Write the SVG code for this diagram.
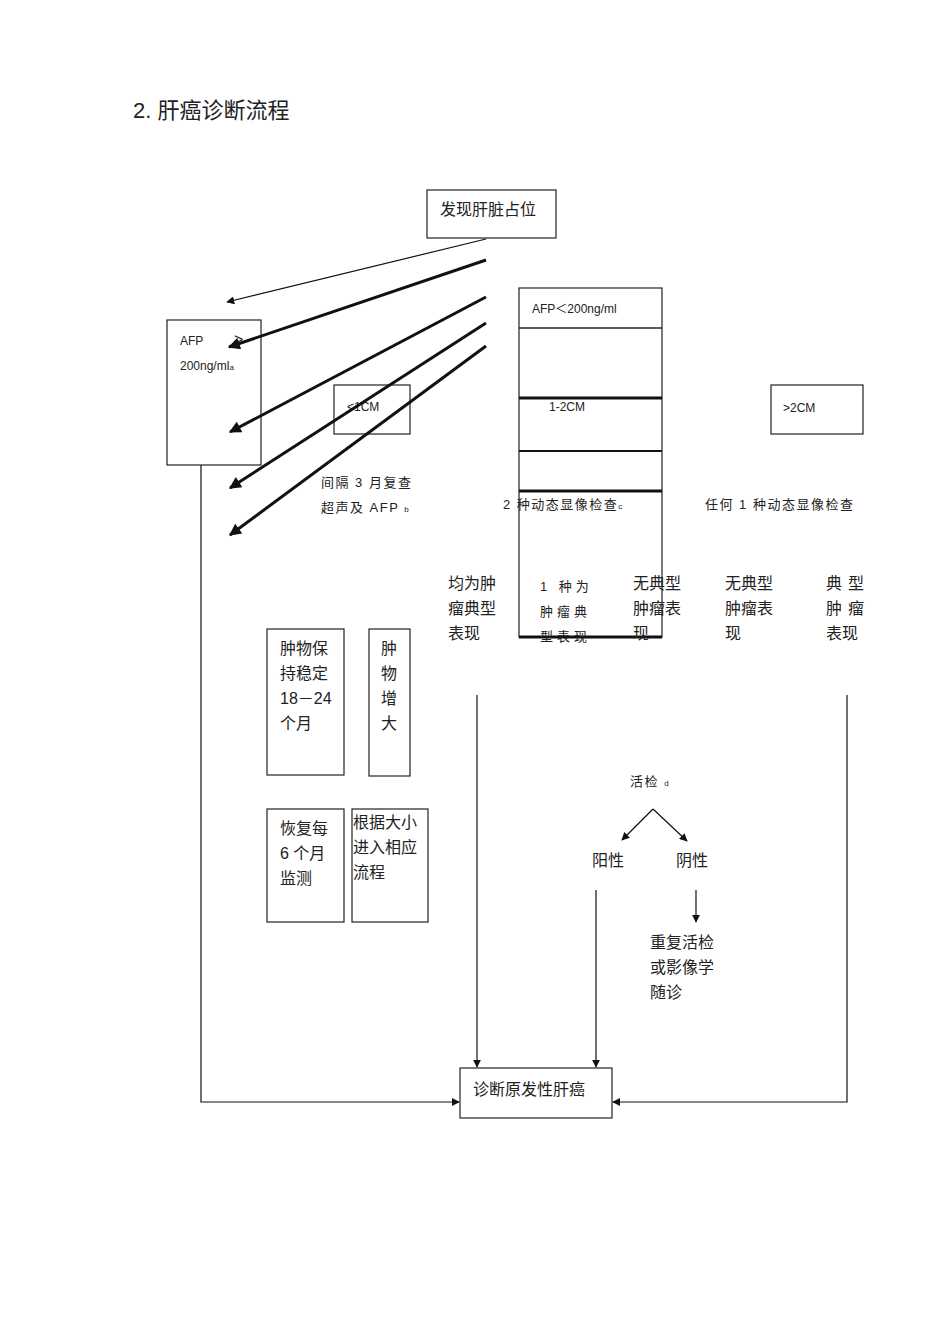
<svg xmlns="http://www.w3.org/2000/svg" width="950" height="1344" viewBox="0 0 950 1344">
<style>
text{font-family:"Liberation Sans","Noto Sans CJK SC",sans-serif;fill:#222}
.t{font-size:16px}.s{font-size:12px}.m{font-size:13px;letter-spacing:1.5px}
.sub{font-size:8px}
.b{fill:none;stroke:#222;stroke-width:1.2}
</style>
<defs>
<marker id="a" viewBox="0 0 10 10" refX="9" refY="5" markerWidth="8" markerHeight="8" orient="auto" markerUnits="userSpaceOnUse"><path d="M0,0L10,5L0,10z" fill="#111"/></marker>
<marker id="ab" viewBox="0 0 10 10" refX="9" refY="5" markerWidth="14" markerHeight="12" orient="auto" markerUnits="userSpaceOnUse"><path d="M0,0L10,5L0,10z" fill="#111"/></marker>
</defs>
<text x="133" y="118" font-size="22">2. 肝癌诊断流程</text>
<g id="n1"><rect class="b" x="427" y="190" width="129" height="48"/><text class="t" x="440" y="215">发现肝脏占位</text></g>
<g id="n2"><rect class="b" x="167" y="320" width="94" height="145"/><text class="s" x="180" y="345">AFP</text><text class="t" x="234" y="345">&gt;</text><text x="180" y="370"><tspan class="s">200ng/ml</tspan><tspan class="sub">a</tspan></text></g>
<g id="n3"><rect class="b" x="334" y="385" width="76" height="49"/><text class="s" x="347" y="411">&lt;1CM</text></g>
<g id="n4"><rect class="b" x="519" y="288" width="143" height="349"/>
<line x1="519" y1="328" x2="662" y2="328" stroke="#222" stroke-width="1.5"/>
<line x1="519" y1="398" x2="662" y2="398" stroke="#111" stroke-width="3"/>
<line x1="519" y1="451" x2="662" y2="451" stroke="#111" stroke-width="2"/>
<line x1="519" y1="491" x2="662" y2="491" stroke="#111" stroke-width="3"/>
<line x1="519" y1="637" x2="662" y2="637" stroke="#111" stroke-width="3"/>
<text class="s" x="532" y="313">AFP＜200ng/ml</text><text class="s" x="549" y="411">1-2CM</text></g>
<g id="n5"><rect class="b" x="771" y="385" width="92" height="49"/><text class="s" x="783" y="412">&gt;2CM</text></g>
<g id="l1"><text class="m" x="321" y="487">间隔 3 月复查</text><text x="321" y="512"><tspan class="m">超声及 AFP </tspan><tspan class="sub">b</tspan></text></g>
<g id="l2"><text x="503" y="509"><tspan class="m">2 种动态显像检查</tspan><tspan class="sub">c</tspan></text></g>
<g id="l3"><text class="m" x="705" y="509">任何 1 种动态显像检查</text></g>
<g id="l4" class="t"><text x="448" y="589">均为肿</text><text x="448" y="614">瘤典型</text><text x="448" y="639">表现</text></g>
<g id="l5"><text font-size="13" x="540" y="591" letter-spacing="4">1 种为</text><text font-size="13" x="540" y="616" letter-spacing="4">肿瘤典</text><text font-size="13" x="540" y="641" letter-spacing="4">型表现</text></g>
<g id="l6" class="t"><text x="633" y="589">无典型</text><text x="633" y="614">肿瘤表</text><text x="633" y="639">现</text></g>
<g id="l7" class="t"><text x="725" y="589">无典型</text><text x="725" y="614">肿瘤表</text><text x="725" y="639">现</text></g>
<g id="l8" class="t"><text x="826" y="589" letter-spacing="6">典型</text><text x="826" y="614" letter-spacing="6">肿瘤</text><text x="826" y="639">表现</text></g>
<g id="n6"><rect class="b" x="267" y="629" width="77" height="146"/><text class="t" x="280" y="654">肿物保</text><text class="t" x="280" y="679">持稳定</text><text class="t" x="280" y="704">18－24</text><text class="t" x="280" y="729">个月</text></g>
<g id="n7"><rect class="b" x="369" y="629" width="41" height="147"/><text class="t" x="381" y="654">肿</text><text class="t" x="381" y="679">物</text><text class="t" x="381" y="704">增</text><text class="t" x="381" y="729">大</text></g>
<g id="n8"><rect class="b" x="267" y="809" width="77" height="113"/><text class="t" x="280" y="834">恢复每</text><text class="t" x="280" y="859">6 个月</text><text class="t" x="280" y="884">监测</text></g>
<g id="n9"><rect class="b" x="352" y="809" width="76" height="113"/><text class="t" x="353" y="828">根据大小</text><text class="t" x="353" y="853">进入相应</text><text class="t" x="353" y="878">流程</text></g>
<g id="l9"><text x="630" y="786"><tspan class="m">活检 </tspan><tspan class="sub">d</tspan></text></g>
<g id="l10" class="t"><text x="592" y="866">阳性</text><text x="676" y="866">阴性</text></g>
<g id="l11" class="t"><text x="650" y="948">重复活检</text><text x="650" y="973">或影像学</text><text x="650" y="998">随诊</text></g>
<g id="n10"><rect class="b" x="460" y="1068" width="152" height="50"/><text class="t" x="473" y="1095">诊断原发性肝癌</text></g>
<g id="edges" fill="none" stroke="#111">
<line x1="486" y1="239" x2="227" y2="302" stroke-width="1.2" marker-end="url(#a)"/>
<line x1="486" y1="260" x2="229" y2="347" stroke-width="3" marker-end="url(#ab)"/>
<line x1="486" y1="297" x2="230" y2="432" stroke-width="3" marker-end="url(#ab)"/>
<line x1="486" y1="323" x2="230" y2="488" stroke-width="3" marker-end="url(#ab)"/>
<line x1="486" y1="346" x2="230" y2="535" stroke-width="3" marker-end="url(#ab)"/>
<polyline points="201,465 201,1102 459,1102" stroke-width="1.2" marker-end="url(#a)"/>
<polyline points="847,695 847,1102 613,1102" stroke-width="1.2" marker-end="url(#a)"/>
<line x1="477" y1="695" x2="477" y2="1067" stroke-width="1.2" marker-end="url(#a)"/>
<line x1="596" y1="890" x2="596" y2="1067" stroke-width="1.2" marker-end="url(#a)"/>
<line x1="653" y1="809" x2="622" y2="840" stroke-width="1.2" marker-end="url(#a)"/>
<line x1="653" y1="809" x2="687" y2="841" stroke-width="1.2" marker-end="url(#a)"/>
<line x1="696" y1="890" x2="696" y2="922" stroke-width="1.2" marker-end="url(#a)"/>
</g>
</svg>
